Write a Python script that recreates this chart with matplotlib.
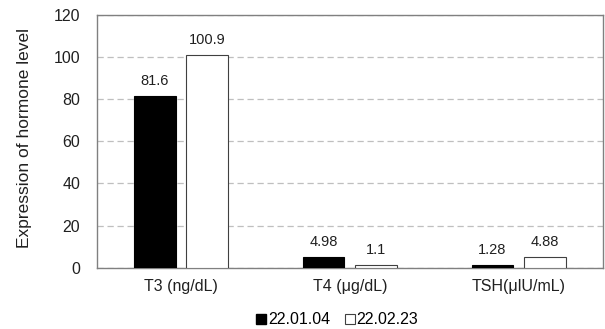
import matplotlib
matplotlib.use("Agg")
import matplotlib.pyplot as plt
import numpy as np
from matplotlib.lines import Line2D

plt.rcParams['font.family'] = ['Liberation Sans', 'DejaVu Sans']

categories = ["T3 (ng/dL)", "T4 (μg/dL)", "TSH(μlU/mL)"]
series_names = ["22.01.04", "22.02.23"]
values_0104 = [81.6, 4.98, 1.28]
values_0223 = [100.9, 1.1, 4.88]
labels_0104 = ["81.6", "4.98", "1.28"]
labels_0223 = ["100.9", "1.1", "4.88"]
yticks = [0, 20, 40, 60, 80, 100, 120]

fig = plt.figure(figsize=(6.05, 3.29), dpi=100)
ax = fig.add_axes([96.7/605, 1 - 267.7/329, (603 - 96.7)/605, (267.7 - 15)/329])

x = np.arange(len(categories))
w = 0.246
off = 0.155
b1 = ax.bar(x - off, values_0104, w, color='black', edgecolor='black', linewidth=0.8, zorder=3)
b2 = ax.bar(x + off, values_0223, w, color='white', edgecolor='#404040', linewidth=0.8, zorder=3)

for rect, lab in zip(list(b1) + list(b2), labels_0104 + labels_0223):
    ax.annotate(lab, (rect.get_x() + rect.get_width()/2, rect.get_height()),
                xytext=(0, 6), textcoords='offset points', ha='center', va='bottom',
                fontsize=10.5, color='#202020')

ax.set_xlim(-0.5, 2.5)
ax.set_ylim(0, 120)
ax.set_yticks(yticks)
ax.set_xticks(x)
ax.set_xticklabels(categories, fontsize=11.5, color='#202020')
ax.tick_params(axis='y', length=0, pad=12, labelsize=11.5, labelcolor='#202020')
ax.tick_params(axis='x', length=0, pad=8)
ax.yaxis.grid(True, linestyle=(0, (5, 3)), color='#bfbfbf', linewidth=0.9, zorder=0)
ax.set_axisbelow(True)
for s in ax.spines.values():
    s.set_color('#808080')
    s.set_linewidth(1.0)
ax.set_ylabel("Expression of hormone level", fontsize=12.5, color='#202020')
ax.yaxis.set_label_coords(-(96.7 - 32) / (603 - 96.7), 0.513)

handles = [Line2D([], [], marker='s', linestyle='none', markerfacecolor='black', markeredgecolor='black', markersize=7),
           Line2D([], [], marker='s', linestyle='none', markerfacecolor='white', markeredgecolor='#404040', markersize=7, markeredgewidth=0.8)]
fig.legend(handles, series_names, loc='center', bbox_to_anchor=(337/605, 1 - 320/329), ncol=2,
           frameon=False, fontsize=11.5, handletextpad=0.05, columnspacing=0.9, handlelength=0.7)

fig.savefig("out.png", dpi=100)
